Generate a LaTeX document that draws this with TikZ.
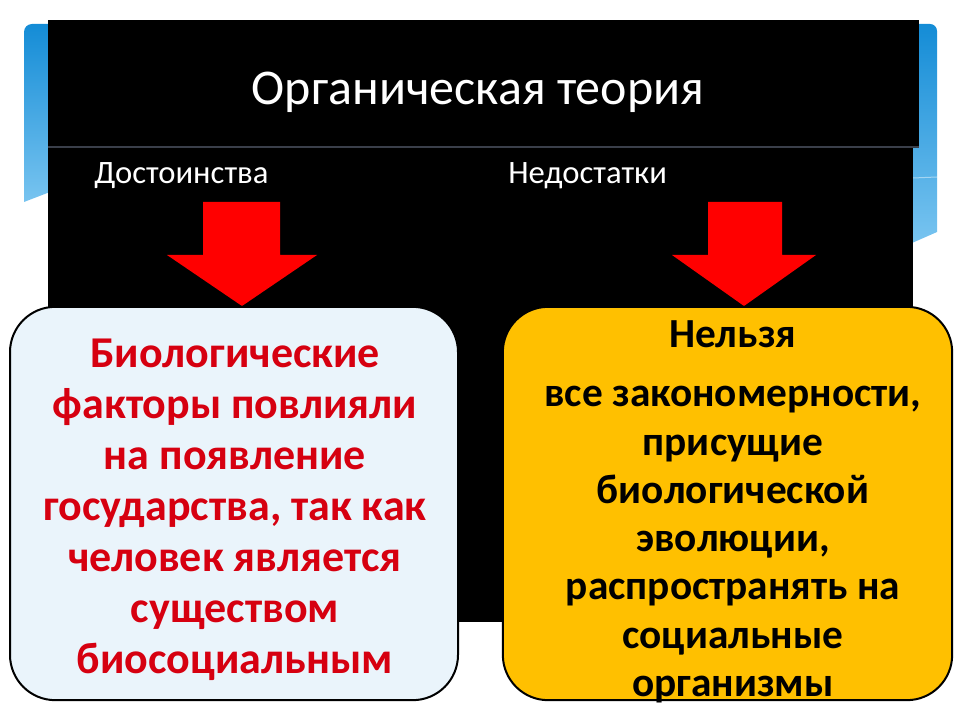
\documentclass[tikz,border=0pt]{standalone}
\usepackage{fontspec}
\setmainfont{Carlito}
\usepackage{xcolor}

\begin{document}
\begin{tikzpicture}[x=0.75pt,y=0.75pt,yscale=-1,xscale=1]
			\useasboundingbox (0,0) rectangle (960,720);
			
			%Shape: Polygon [id:blueleft] 
			\shade  [top color={rgb, 255:red, 20; green, 140; blue, 214 }, bottom color={rgb, 255:red, 120; green, 196; blue, 240 }] (24,202) -- (24,32) .. controls (24,27.58) and (27.58,24) .. (32,24) -- (50,24) -- (50,192) -- cycle ;
			%Shape: Polygon [id:blueright] 
			\shade  [top color={rgb, 255:red, 20; green, 140; blue, 214 }, bottom color={rgb, 255:red, 120; green, 196; blue, 240 }] (912,24) -- (930,24) .. controls (933.87,24) and (937,27.13) .. (937,31) -- (937,232) -- (912,243) -- cycle ;
			%Straight Lines [id:blueline] 
			\draw  [draw={rgb, 255:red, 255; green, 255; blue, 255 }, draw opacity=0.45, line width=0.75]  (913,178) -- (937,177) ;
			%Shape: Rectangle [id:titlebar] 
			\draw  [draw opacity=0][fill={rgb, 255:red, 0; green, 0; blue, 0 }  ,fill opacity=1 ] (48,20) -- (919,20) -- (919,147) -- (48,147) -- cycle ;
			%Shape: Rectangle [id:backpanel] 
			\draw  [draw opacity=0][fill={rgb, 255:red, 0; green, 0; blue, 0 }  ,fill opacity=1 ] (48,147) -- (913,147) -- (913,622) -- (48,622) -- cycle ;
			%Straight Lines [id:titlerule] 
			\draw  [draw={rgb, 255:red, 58; green, 63; blue, 74 }, line width=1.5]  (48,147) -- (919,147) ;
			
			%Shape: Down Arrow [id:arrowleft] 
			\draw  [draw opacity=0][fill={rgb, 255:red, 255; green, 0; blue, 0 }  ,fill opacity=1 ] (203,202) -- (280,202) -- (280,255) -- (317,255) -- (242,306) -- (167,255) -- (203,255) -- cycle ;
			%Shape: Down Arrow [id:arrowright] 
			\draw  [draw opacity=0][fill={rgb, 255:red, 255; green, 0; blue, 0 }  ,fill opacity=1 ] (708,202) -- (782,202) -- (782,255) -- (816,255) -- (744,306) -- (672,255) -- (708,255) -- cycle ;
			
			% Text Node
			\draw (478,92) node [inner sep=0.75pt, text={rgb, 255:red, 255; green, 255; blue, 255 }, font=\fontsize{37.5}{44}\selectfont] (title) {Органическая теория};
			% Text Node
			\draw (93,176) node [anchor=west][inner sep=0.75pt, text={rgb, 255:red, 255; green, 255; blue, 255 }, font=\fontsize{24.5}{29}\selectfont] (pros) {Достоинства};
			% Text Node
			\draw (507,176) node [anchor=west][inner sep=0.75pt, text={rgb, 255:red, 255; green, 255; blue, 255 }, font=\fontsize{24.5}{29}\selectfont] (cons) {Недостатки};
			
			%Shape: Rounded Rect [id:prosbox] 
			\draw (234,503.5) node [draw={rgb, 255:red, 0; green, 0; blue, 0 }, line width=1.5, fill={rgb, 255:red, 234; green, 244; blue, 251 }, rounded corners=34, minimum width=336, minimum height=295, inner sep=0pt] (prosbox) {};
			%Shape: Rounded Rect [id:consbox] 
			\draw (727.5,503.5) node [draw={rgb, 255:red, 0; green, 0; blue, 0 }, line width=1.5, fill={rgb, 255:red, 255; green, 192; blue, 0 }, rounded corners=34, minimum width=337, minimum height=295, inner sep=0pt] (consbox) {};
			% Text Node
			\draw (235,510) node [inner sep=0pt, align=center, text={rgb, 255:red, 214; green, 0; blue, 16 }, font=\fontsize{33}{38.25}\selectfont\bfseries] (prostext) {Биологические\\факторы повлияли\\на появление\\государства, так как\\человек является\\существом\\биосоциальным};
			% Text Node
			\draw (733,512) node [inner sep=0pt, align=center, font=\fontsize{31}{36.2}\selectfont\bfseries] (constext) {Нельзя\\[8pt]все закономерности,\\присущие\\биологической\\эволюции,\\распространять на\\социальные\\организмы};
		\end{tikzpicture}
\end{document}
